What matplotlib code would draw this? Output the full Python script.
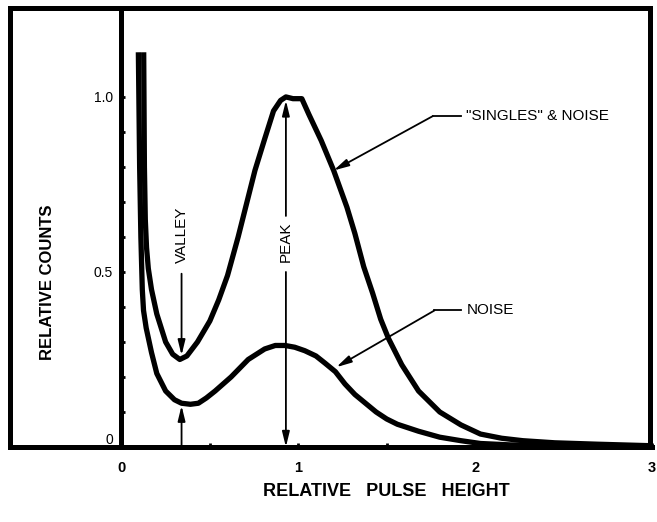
import matplotlib
matplotlib.use('Agg')
import matplotlib.pyplot as plt
from matplotlib.ticker import FixedLocator

plt.rcParams['font.family'] = ['Liberation Sans', 'DejaVu Sans']

# ---- data ----
singles_x = [0.126, 0.130, 0.135, 0.142, 0.152, 0.17, 0.20, 0.25, 0.29, 0.33, 0.37,
             0.43, 0.50, 0.55, 0.60, 0.66, 0.70, 0.755, 0.81, 0.86, 0.90, 0.93,
             0.97, 1.02, 1.06, 1.13, 1.20, 1.275, 1.32, 1.37, 1.42, 1.466, 1.51,
             1.585, 1.68, 1.80, 1.92, 2.03, 2.15, 2.27, 2.45, 2.69, 2.97]
singles_y = [1.12, 0.80, 0.65, 0.57, 0.51, 0.45, 0.38, 0.30, 0.265, 0.25, 0.26,
             0.30, 0.36, 0.42, 0.49, 0.60, 0.68, 0.79, 0.88, 0.96, 0.99, 1.0,
             0.995, 0.995, 0.95, 0.875, 0.79, 0.685, 0.61, 0.515, 0.44, 0.365, 0.31,
             0.235, 0.16, 0.10, 0.063, 0.037, 0.025, 0.018, 0.012, 0.008, 0.004]

noise_x = [0.096, 0.103, 0.110, 0.118, 0.125, 0.140, 0.17, 0.20, 0.25, 0.30, 0.34,
           0.39, 0.435, 0.48, 0.53, 0.62, 0.717, 0.81, 0.87, 0.925, 0.98, 1.037,
           1.10, 1.15, 1.21, 1.264, 1.32, 1.38, 1.44, 1.50, 1.56, 1.68, 1.80,
           1.92, 2.03, 2.2, 2.5, 2.97]
noise_y = [1.12, 0.80, 0.60, 0.45, 0.39, 0.34, 0.27, 0.21, 0.16, 0.135, 0.125,
           0.122, 0.125, 0.14, 0.16, 0.20, 0.25, 0.28, 0.29, 0.29, 0.285, 0.275,
           0.26, 0.24, 0.215, 0.18, 0.15, 0.125, 0.10, 0.08, 0.065, 0.045, 0.028,
           0.018, 0.01, 0.006, 0.004, 0.003]

x_ticks = [0, 1, 2, 3]
x_tick_labels = ['0', '1', '2', '3']
y_ticks = [0, 0.5, 1.0]
y_tick_labels = ['0', '0.5', '1.0']
y_minor = [0.1, 0.2, 0.3, 0.4, 0.6, 0.7, 0.8, 0.9]
x_minor = [0.5, 1.5, 2.5]

valley_x = 0.34
peak_x = 0.93

# ---- figure ----
fig = plt.figure(figsize=(6.57, 5.22), dpi=100)
frame_rect = [10 / 657, 75 / 522, 640 / 657, 439 / 522]
ax_rect = [10 / 657, 75 / 522, 642 / 657, 439 / 522]

frame = fig.add_axes(frame_rect)
frame.set_xticks([])
frame.set_yticks([])
for sp in frame.spines.values():
    sp.set_linewidth(3.6)

ax = fig.add_axes(ax_rect, facecolor='none')
ax.set_xlim(-0.63, 3.0)
ax.set_ylim(0, 1.254)
ax.spines['left'].set_position(('data', 0))
ax.spines['left'].set_linewidth(3.6)
ax.spines['bottom'].set_linewidth(3.6)
ax.spines['top'].set_visible(False)
ax.spines['right'].set_visible(False)

lw = 3.8
ax.plot(singles_x, singles_y, color='black', lw=lw, solid_joinstyle='round')
ax.plot(noise_x, noise_y, color='black', lw=lw, solid_joinstyle='round')

ax.xaxis.set_major_locator(FixedLocator(x_ticks))
ax.set_xticklabels(x_tick_labels, fontsize=10.5, fontweight='bold')
ax.xaxis.set_minor_locator(FixedLocator(x_minor))
ax.yaxis.set_major_locator(FixedLocator(y_ticks))
ax.set_yticklabels(y_tick_labels, fontsize=10)
ax.yaxis.set_minor_locator(FixedLocator(y_minor))
ax.tick_params(axis='x', which='both', direction='in', length=3, width=2, pad=10)
ax.tick_params(axis='y', which='both', direction='in', length=3, width=2, pad=6)
ax.get_yticklabels()[0].set_verticalalignment('bottom')

fig.text(48 / 657, 1 - 282 / 522, 'RELATIVE COUNTS', rotation=90, ha='center',
         va='center', fontsize=12, fontweight='bold')
fig.text(386 / 657, 1 - 491 / 522, 'RELATIVE   PULSE   HEIGHT', ha='center',
         va='center', fontsize=13, fontweight='bold')

arrow = dict(arrowstyle='-|>,head_length=0.9,head_width=0.22', color='black',
             lw=1.3, shrinkA=0, shrinkB=0)

# VALLEY
ax.text(valley_x, 0.605, 'VALLEY', rotation=90, ha='center', va='center', fontsize=11)
ax.annotate('', xy=(valley_x, 0.262), xytext=(valley_x, 0.495), arrowprops=arrow)
ax.annotate('', xy=(valley_x, 0.118), xytext=(valley_x, 0.0), arrowprops=arrow)

# PEAK
ax.text(peak_x, 0.585, 'PEAK', rotation=90, ha='center', va='center', fontsize=11)
ax.annotate('', xy=(peak_x, 0.99), xytext=(peak_x, 0.66), arrowprops=arrow)
ax.annotate('', xy=(peak_x, 0.0), xytext=(peak_x, 0.50), arrowprops=arrow)

# labelled leaders
ax.plot([1.76, 1.92], [0.945, 0.945], color='black', lw=1.3)
ax.annotate('', xy=(1.20, 0.79), xytext=(1.76, 0.945), arrowprops=arrow)
ax.text(1.95, 0.945, '"SINGLES" & NOISE', ha='left', va='center', fontsize=11)

ax.plot([1.77, 1.92], [0.39, 0.39], color='black', lw=1.3)
ax.annotate('', xy=(1.215, 0.228), xytext=(1.77, 0.39), arrowprops=arrow)
ax.text(1.95, 0.39, 'NOISE', ha='left', va='center', fontsize=11)

fig.savefig('out.png', dpi=100)
